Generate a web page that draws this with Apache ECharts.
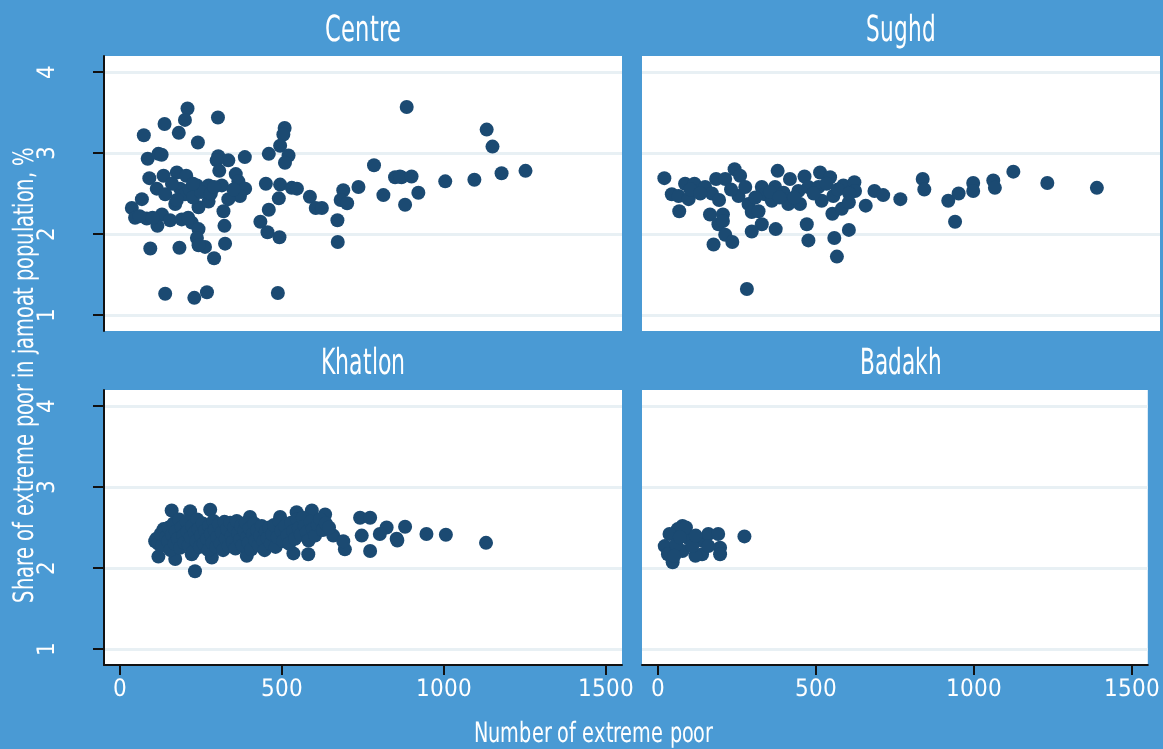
<!DOCTYPE html>
<html>
<head>
<meta charset="utf-8">
<script src="https://cdn.jsdelivr.net/npm/echarts@6/dist/echarts.min.js"></script>
<style>
  @font-face {
    font-family: 'CondFace';
    src: local('DejaVu Sans Condensed'), local('DejaVuSansCondensed'),
         local('Roboto Condensed'), local('RobotoCondensed-Regular'),
         local('Liberation Sans Narrow'), local('LiberationSansNarrow-Regular'),
         local('Open Sans Condensed Light'), local('OpenSans-CondensedLight');
  }
  html, body { margin: 0; padding: 0; background: #4a9ad4; }
  #chart { width: 1163px; height: 749px; }
</style>
</head>
<body>
<div id="chart"></div>
<script>
  // panel names, in drawing order
  var regions = ['Centre', 'Sughd', 'Khatlon', 'Badakh'];
  var xTicks = [0, 500, 1000, 1500];
  var yTicks = [1, 2, 3, 4];
  var xTitle = 'Number of extreme poor';
  var yTitle = 'Share of extreme poor in jamoat population, %';

  // [number of extreme poor, share in jamoat population %]
  var centre = [
    [208,3.55],[200,3.41],[137,3.36],[302,3.44],[73,3.22],[181,3.25],[240,3.13],[885,3.57],
    [85,2.93],[118,2.99],[128,2.98],[303,2.96],[334,2.91],[385,2.95],[298,2.91],[306,2.78],
    [90,2.69],[134,2.72],[175,2.76],[204,2.72],[113,2.56],[139,2.49],[185,2.56],[200,2.49],
    [237,2.60],[273,2.60],[314,2.60],[357,2.74],[365,2.65],[386,2.56],[370,2.47],[334,2.43],
    [67,2.43],[170,2.37],[242,2.33],[273,2.40],[319,2.28],[36,2.32],[46,2.20],[82,2.19],
    [129,2.24],[115,2.10],[154,2.17],[190,2.18],[221,2.14],[242,2.06],[237,1.95],[262,1.84],
    [242,1.86],[322,2.10],[324,1.88],[290,1.70],[93,1.82],[183,1.83],[139,1.26],[229,1.21],
    [268,1.28],[487,1.27],[450,2.62],[459,2.99],[508,3.31],[504,3.23],[494,3.09],[520,2.97],
    [509,2.88],[494,2.61],[530,2.57],[546,2.56],[490,2.44],[459,2.30],[433,2.15],[455,2.02],
    [492,1.96],[586,2.46],[604,2.32],[623,2.32],[689,2.54],[681,2.42],[701,2.38],[671,2.17],
    [672,1.90],[736,2.58],[784,2.85],[813,2.48],[849,2.70],[869,2.70],[880,2.36],[1132,3.29],
    [1150,3.08],[864,2.71],[900,2.71],[921,2.51],[1004,2.65],[1094,2.67],[1178,2.75],[1252,2.78],
    [215,2.55],[225,2.45],[250,2.52],[280,2.50],[160,2.62],[175,2.42],[290,2.58],[350,2.55],
    [225,2.62],[60,2.22],[100,2.20],[210,2.20]
  ];
  var sughd = [
    [19,2.69],[42,2.49],[63,2.47],[83,2.62],[112,2.62],[94,2.43],[65,2.28],[145,2.58],
    [166,2.50],[188,2.42],[179,2.68],[207,2.68],[160,2.24],[200,2.24],[186,2.12],[200,2.16],
    [171,1.87],[207,1.99],[229,1.90],[236,2.80],[253,2.72],[248,2.47],[269,2.58],[279,2.37],
    [289,2.27],[310,2.28],[320,2.12],[289,2.03],[274,1.32],[320,2.58],[330,2.49],[351,2.41],
    [363,2.06],[369,2.78],[361,2.58],[387,2.51],[407,2.68],[402,2.37],[433,2.53],[438,2.37],
    [452,2.71],[464,2.58],[459,2.12],[464,1.92],[500,2.76],[495,2.58],[505,2.41],[531,2.70],
    [541,2.47],[538,2.25],[567,2.31],[572,2.60],[589,2.39],[606,2.64],[608,2.53],[544,1.95],
    [552,1.72],[589,2.05],[641,2.35],[668,2.53],[695,2.48],[748,2.43],[817,2.68],[822,2.55],
    [896,2.41],[928,2.50],[917,2.15],[973,2.63],[973,2.53],[1035,2.66],[1040,2.57],[1097,2.77],
    [1202,2.63],[1355,2.57],[100,2.55],[130,2.50],[225,2.55],[300,2.45],[345,2.52],[375,2.45],
    [420,2.45],[480,2.50],[520,2.62],[555,2.55],[590,2.50]
  ];
  var khatlon = [
    [159,2.71],[216,2.70],[278,2.72],[231,1.96],[118,2.14],[170,2.11],[108,2.33],[134,2.48],
    [283,2.13],[221,2.17],[391,2.15],[535,2.18],[581,2.17],[592,2.71],[633,2.66],[401,2.63],
    [494,2.63],[545,2.69],[658,2.40],[694,2.23],[689,2.33],[741,2.62],[772,2.62],[746,2.40],
    [772,2.21],[823,2.50],[854,2.36],[880,2.51],[856,2.34],[946,2.42],[1006,2.41],[1130,2.31],
    [802,2.42],[112,2.36],[118,2.30],[125,2.42],[130,2.28],[138,2.45],[142,2.38],[148,2.33],
    [150,2.50],[155,2.22],[160,2.41],[165,2.55],[168,2.30],[172,2.45],[178,2.36],[182,2.60],
    [185,2.25],[190,2.50],[195,2.40],[198,2.31],[205,2.57],[208,2.45],[212,2.28],[218,2.38],
    [222,2.52],[226,2.20],[230,2.44],[235,2.33],[238,2.60],[242,2.48],[246,2.26],[250,2.40],
    [255,2.55],[258,2.30],[262,2.46],[268,2.36],[272,2.22],[275,2.52],[280,2.42],[285,2.31],
    [288,2.58],[292,2.47],[296,2.26],[300,2.38],[305,2.54],[310,2.30],[314,2.44],[318,2.22],
    [322,2.57],[326,2.36],[330,2.48],[335,2.27],[340,2.56],[344,2.40],[348,2.32],[352,2.50],
    [356,2.24],[360,2.58],[365,2.43],[370,2.35],[374,2.52],[378,2.28],[383,2.46],[388,2.56],
    [392,2.38],[396,2.31],[400,2.49],[405,2.23],[410,2.42],[414,2.55],[418,2.34],[423,2.47],
    [428,2.28],[432,2.40],[437,2.52],[442,2.33],[446,2.22],[450,2.45],[455,2.37],[460,2.50],
    [465,2.30],[470,2.42],[475,2.53],[480,2.26],[486,2.38],[492,2.58],[498,2.46],[504,2.33],
    [510,2.52],[516,2.40],[522,2.30],[528,2.56],[534,2.45],[540,2.36],[546,2.60],[552,2.49],
    [558,2.41],[564,2.62],[570,2.52],[576,2.44],[582,2.34],[588,2.57],[595,2.48],[602,2.40],
    [610,2.53],[618,2.60],[626,2.47],[635,2.55],[645,2.50]
  ];
  var badakh = [
    [274,2.39],[78,2.52],[63,2.48],[37,2.42],[22,2.27],[47,2.07],[32,2.17],[78,2.21],
    [99,2.36],[140,2.34],[160,2.42],[191,2.42],[197,2.25],[197,2.17],[140,2.17],[119,2.15],
    [109,2.27],[58,2.29],[52,2.15],[89,2.50],[160,2.27],[70,2.38],[120,2.40]
  ];
  var panels = [centre, sughd, khatlon, badakh];

  var font = 'CondFace, "Roboto Condensed", "DejaVu Sans Condensed", "Liberation Sans Narrow", Roboto, sans-serif';
  var dark = '#1b4a72';

  var grids = [
    { left: 104, top: 56, width: 518, height: 275 },
    { left: 642, top: 56, width: 518, height: 275 },
    { left: 104, top: 390, width: 518, height: 275 },
    { left: 642, top: 390, width: 518, height: 275 }
  ];

  // squeeze a text horizontally to the width it has in the original
  var measureCtx = document.createElement('canvas').getContext('2d');
  function squeeze(text, size, target) {
    measureCtx.font = size + 'px ' + font;
    return Math.min(1, target / measureCtx.measureText(text).width);
  }

  function label(text, x, y, size, target, rot) {
    var s = squeeze(text, size, target);
    return {
      type: 'text', x: x, y: y, rotation: rot || 0, scaleX: s,
      style: { text: text, fill: '#fff', font: size + 'px ' + font, align: 'center', verticalAlign: 'middle' }
    };
  }

  function draw() {
    var myChart = echarts.init(document.getElementById('chart'));
    var options = {
      backgroundColor: '#4a9ad4',
      animation: false,
      grid: grids.map(function (g) {
        return { left: g.left, top: g.top, width: g.width, height: g.height,
          show: true, backgroundColor: '#ffffff', borderWidth: 0 };
      }),
      xAxis: grids.map(function (g, i) {
        var bottomRow = i >= 2;
        return {
          type: 'value', gridIndex: i, min: -50, max: 1550,
          axisLine: { show: bottomRow, onZero: false, lineStyle: { color: '#111', width: 2 } },
          axisTick: { show: bottomRow, length: 10, customValues: xTicks, lineStyle: { color: '#111', width: 2 } },
          axisLabel: { show: bottomRow, customValues: xTicks, margin: 13, color: '#fff', fontFamily: font, fontSize: 24,
            formatter: function (v) { return String(v); } },
          splitLine: { show: false }
        };
      }),
      yAxis: grids.map(function (g, i) {
        var leftCol = i % 2 === 0;
        return {
          type: 'value', gridIndex: i, min: 0.8, max: 4.2,
          axisLine: { show: leftCol, onZero: false, lineStyle: { color: '#111', width: 2 } },
          axisTick: { show: leftCol, length: 11, customValues: yTicks, lineStyle: { color: '#111', width: 2 } },
          axisLabel: { show: leftCol, customValues: yTicks, rotate: 90, margin: 44, color: '#fff', fontFamily: font, fontSize: 24 },
          splitLine: { show: true, lineStyle: { color: '#e8f0f4', width: 3 } }
        };
      }),
      graphic: [
        label(regions[0], 363, 32, 36, 76),
        label(regions[1], 901, 32, 36, 70),
        label(regions[2], 363, 365, 36, 85),
        label(regions[3], 901, 365, 36, 82),
        label(xTitle, 593, 735, 28, 239),
        label(yTitle, 26, 375, 28, 455, Math.PI / 2)
      ],
      series: panels.map(function (d, i) {
        return {
          name: regions[i], type: 'scatter', xAxisIndex: i, yAxisIndex: i,
          symbol: 'circle', symbolSize: 14,
          itemStyle: { color: dark, opacity: 1 },
          data: d
        };
      })
    };
    myChart.setOption(options);
  }

  if (document.fonts && document.fonts.load) {
    document.fonts.load('24px CondFace').then(draw, draw);
  } else {
    draw();
  }
</script>
</body>
</html>
